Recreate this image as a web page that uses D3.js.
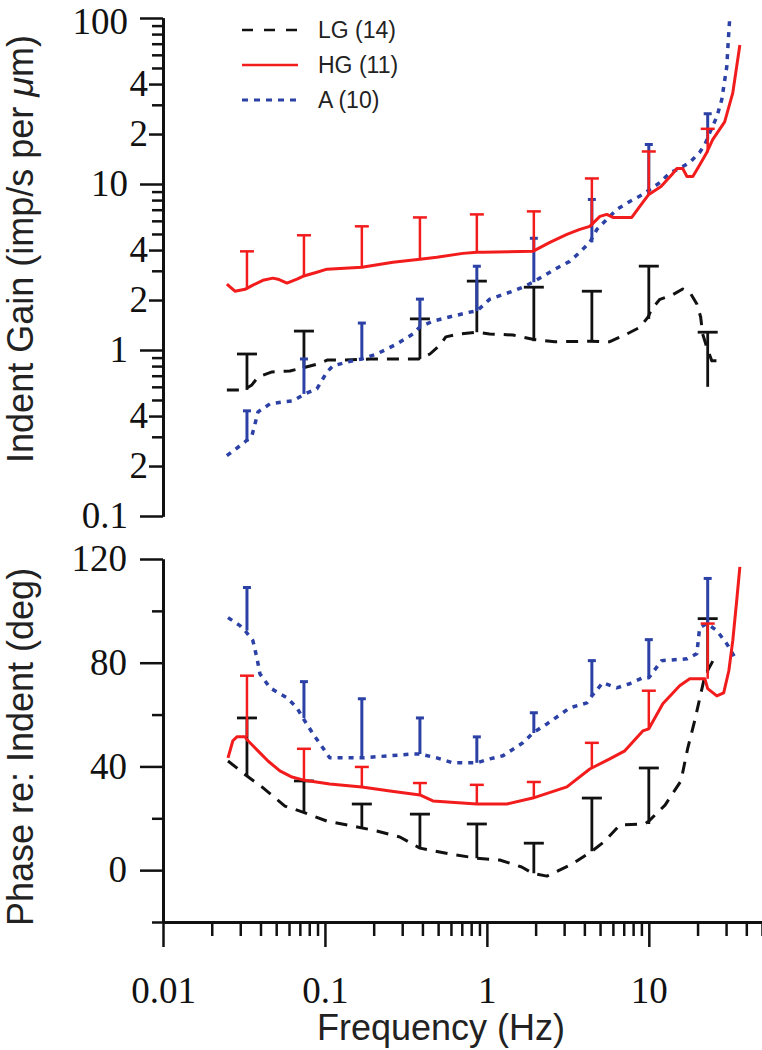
<!DOCTYPE html>
<html>
<head>
<meta charset="utf-8">
<script src="https://cdn.jsdelivr.net/npm/d3@7"></script>
<style>
  body { margin: 0; background: #fff; }
  svg { display: block; }
</style>
</head>
<body>
<script>

// frequencies (Hz) where the error bars sit
var barFreqs = [0.033, 0.0742, 0.169, 0.386, 0.867, 1.95, 4.45, 10, 23.1];

// legend
var seriesNames = ["LG (14)", "HG (11)", "A (10)"];

// gain curves [Hz, imp/s per um]
var lgGain = [[0.0248,0.575],[0.0316,0.575],[0.0354,0.616],[0.0386,0.688],[0.0471,0.738],[0.0608,0.748],[0.0731,0.78],[0.0905,0.824],[0.104,0.871],[0.133,0.871],[0.19,0.883],[0.38,0.883],[0.445,0.946],[0.513,1.07],[0.558,1.2],[0.68,1.25],[0.867,1.28],[1.04,1.25],[1.45,1.23],[1.92,1.16],[2.63,1.12],[4.3,1.13],[5.7,1.12],[7.1,1.23],[8.8,1.37],[9.9,1.58],[10.4,1.76],[11.7,2.02],[13.9,2.14],[16.2,2.33],[17.9,2.23],[19.8,1.89],[20.9,1.58],[21.5,1.25],[22.8,1.04],[24.5,0.86],[26.3,0.86]];
var hgGain = [[0.0248,2.49],[0.0278,2.26],[0.0321,2.32],[0.0359,2.46],[0.0414,2.63],[0.0477,2.71],[0.0513,2.67],[0.0583,2.53],[0.0672,2.67],[0.0731,2.78],[0.0892,2.94],[0.103,3.07],[0.169,3.15],[0.263,3.38],[0.386,3.52],[0.491,3.62],[0.711,3.82],[0.867,3.88],[0.944,3.88],[1.92,3.93],[2.45,4.45],[3.12,4.97],[3.75,5.33],[4.32,5.56],[4.99,6.38],[5.5,6.56],[6.0,6.29],[7.85,6.29],[8.8,7.33],[10,8.65],[11.9,9.66],[13.9,11.4],[14.9,12.4],[16.2,12.4],[17.2,11.1],[18.7,11.1],[19.8,12.2],[21.5,14.0],[22.8,15.5],[24.8,18.5],[29.4,23.7],[33,35.4],[36.5,68.8]];
var aGain = [[0.0248,0.231],[0.0299,0.265],[0.0321,0.28],[0.0354,0.304],[0.037,0.359],[0.0386,0.424],[0.0458,0.474],[0.055,0.487],[0.0634,0.494],[0.0752,0.544],[0.0892,0.583],[0.103,0.738],[0.112,0.801],[0.137,0.847],[0.169,0.883],[0.209,0.946],[0.278,1.087],[0.349,1.248],[0.386,1.374],[0.464,1.493],[0.617,1.6],[0.785,1.691],[0.867,1.715],[1.043,2.025],[1.387,2.23],[1.667,2.39],[1.923,2.56],[2.22,2.78],[2.7,3.11],[3.25,3.42],[3.75,3.88],[4.32,4.45],[4.78,5.33],[5.5,6.12],[6.34,7.03],[7.63,7.85],[9.18,8.65],[11.7,10.2],[13.5,11.7],[15.5,12.4],[17.9,13.5],[20.6,15.5],[22.2,17.3],[23.8,20.4],[26.3,25.4],[28.2,32.2],[30.3,50.8],[30.9,70.8],[31.6,100]];

// gain error bars: where the bar starts and where the cap is
var lgGainBase = [0.575, 0.78, null, 0.883, 1.28, 1.13, 1.13, 1.54, 0.60];
var lgGainCap  = [0.946, 1.30, null, 1.54, 2.60, 2.39, 2.26, 3.2, 1.28];
var hgGainBase = [2.32, 2.78, 3.15, 3.52, 3.88, 3.93, 5.56, 8.65, 15.5];
var hgGainCap  = [3.93, 4.91, 5.56, 6.29, 6.56, 6.84, 10.8, 15.7, 21.5];
var aGainBase  = [0.28, 0.544, 0.883, 1.374, 1.715, 2.56, 4.45, 8.65, 18.5];
var aGainCap   = [0.43, 0.883, 1.453, 2.025, 3.196, 4.71, 8.07, 17.3, 26.5];

// phase curves [Hz, deg]
var lgPhase = [[0.0252,42.1],[0.033,36.3],[0.0408,32.1],[0.0566,24.7],[0.0731,22.4],[0.103,18.9],[0.149,17.0],[0.209,15.1],[0.29,12.8],[0.386,8.5],[0.591,6.2],[0.867,4.6],[1.2,3.9],[1.64,1.2],[1.92,-1.2],[2.35,-2.3],[3.35,2.3],[4.45,7.3],[5.35,11.2],[6.62,17.4],[9.45,17.8],[10,18.9],[12.6,25.1],[15.8,34.4],[17.4,47.1],[19.2,57.6],[22.2,75.0],[26.3,83.5]];
var hgPhase = [[0.0252,43.3],[0.027,49.9],[0.0286,51.4],[0.0321,51.4],[0.0335,49.9],[0.0386,46.0],[0.0445,42.1],[0.0527,38.3],[0.0626,35.9],[0.0731,34.8],[0.107,33.2],[0.169,32.1],[0.252,30.5],[0.386,29.0],[0.464,26.7],[0.867,25.5],[1.33,25.5],[1.92,27.8],[3.12,32.1],[4.32,39.0],[5.74,42.9],[7.11,46.0],[9.18,53.7],[10,54.5],[12.2,64.2],[15.5,71.1],[17.9,73.8],[22.2,73.8],[23.1,70.0],[26.3,67.2],[29.0,68.4],[31.2,76.9],[33.0,88.5],[34.9,104],[36.5,117]];
var aPhase = [[0.0252,97.4],[0.0299,94.3],[0.0321,92.4],[0.0359,88.5],[0.038,81.9],[0.0397,75.7],[0.0458,70.3],[0.0583,66.5],[0.0672,62.6],[0.0731,58.7],[0.0843,52.6],[0.0972,47.1],[0.107,43.3],[0.169,43.3],[0.349,44.8],[0.386,44.8],[0.491,43.3],[0.617,41.4],[0.867,41.4],[1.043,42.9],[1.256,44.1],[1.667,49.1],[1.923,52.9],[2.35,56.4],[3.25,62.6],[4.14,64.5],[4.45,67.2],[5.2,72.3],[6.34,70.3],[7.63,71.9],[9.18,74.2],[10,74.2],[12.0,80.8],[17.2,81.5],[19.8,83.5],[20.6,93.5],[22.8,95.1],[26.3,92.4],[30.3,87.3],[34.9,80.8]];

// phase error bars
var lgPhaseBase = [36.3, 22.4, 16.6, 8.5, 4.6, -1.2, 7.3, 17.8, 76];
var lgPhaseCap  = [58.7, 34.4, 25.5, 21.6, 17.8, 10.4, 27.8, 39.4, 97];
var hgPhaseBase = [51.4, 34.8, 32.1, 29.0, 25.5, 27.8, 39.0, 54.5, 73.8];
var hgPhaseCap  = [75.0, 46.8, 39.8, 33.6, 32.9, 34.0, 49.1, 69.2, 95.1];
var aPhaseBase  = [92.4, 58.7, 43.3, 44.8, 41.4, 52.9, 67.2, 74.2, 95.1];
var aPhaseCap   = [109.0, 72.7, 66.1, 58.7, 51.4, 60.7, 80.8, 88.9, 112.5];

// ticks
var freqMajor = [0.01, 0.1, 1, 10];
var freqMinor = [0.02,0.03,0.04,0.05,0.06,0.07,0.08,0.09,0.2,0.3,0.4,0.5,0.6,0.7,0.8,0.9,2,3,4,5,6,7,8,9,20,30,40,50];
var gainMajor = [0.1, 1, 10, 100];
var gainLabeledMinor = [0.2, 0.4, 2, 4, 20, 40];
var gainMinor = [0.3,0.5,0.6,0.7,0.8,0.9,3,5,6,7,8,9,30,50,60,70,80,90];
var phaseMajor = [0, 40, 80, 120];
var phaseMinor = [-20, 20, 60, 100];


window.onload = function() {
    drawChart();
};

function drawChart() {

    var w = 762;
    var h = 1050;

    var black = "#111";
    var red = "#f21c1c";
    var blue = "#2c41a6";

    var serif = "'Liberation Serif', 'Times New Roman', serif";
    var sans = "'Liberation Sans', Arial, sans-serif";

    var svg = d3.select("body")
                .append("svg")
                .attr("width", w)
                .attr("height", h);

    var xScale = d3.scaleLog().domain([0.01, 50]).range([163, 762]);
    var yGain = d3.scaleLog().domain([0.1, 100]).range([516, 18]);
    var yPhase = d3.scaleLinear().domain([-20, 120]).range([922, 559]);

    // axes ------------------------------------------------------------

    function styleAxis(g) {
        g.attr("font-size", null).attr("font-family", null);
        g.select(".domain").attr("stroke", black).attr("stroke-width", 3);
        g.selectAll(".tick line").attr("stroke", black).attr("stroke-width", 2.5);
        g.selectAll("text")
         .attr("fill", black)
         .style("font-family", serif)
         .style("font-size", "37px");
    }

    // gain axis
    svg.append("g")
       .attr("transform", "translate(163,0)")
       .call(d3.axisLeft(yGain).tickValues(gainMinor).tickSize(11).tickSizeOuter(0).tickFormat(""))
       .call(styleAxis);

    svg.append("g")
       .attr("transform", "translate(163,0)")
       .call(d3.axisLeft(yGain).tickValues(gainLabeledMinor).tickSize(14).tickSizeOuter(0)
                .tickPadding(1)
                .tickFormat(function(d) { return String(Math.round(d / Math.pow(10, Math.floor(Math.log10(d) + 1e-9)))); }))
       .call(styleAxis);

    var gainMajorAxis = svg.append("g")
       .attr("transform", "translate(163,0)")
       .call(d3.axisLeft(yGain).tickValues(gainMajor).tickSize(23).tickSizeOuter(0)
                .tickPadding(12)
                .tickFormat(function(d) { return d < 1 ? "0.1" : String(d); }))
       .call(styleAxis);

    // the top label would poke out of the picture, nudge it down a bit
    gainMajorAxis.selectAll(".tick text")
       .filter(function(d) { return d == 100; })
       .attr("dy", "0.42em");

    // phase axis
    svg.append("g")
       .attr("transform", "translate(163,0)")
       .call(d3.axisLeft(yPhase).tickValues(phaseMinor).tickSize(11).tickSizeOuter(0).tickFormat(""))
       .call(styleAxis);

    svg.append("g")
       .attr("transform", "translate(163,0)")
       .call(d3.axisLeft(yPhase).tickValues(phaseMajor).tickSize(23).tickSizeOuter(0).tickPadding(13))
       .call(styleAxis);

    // frequency axis
    svg.append("g")
       .attr("transform", "translate(0,922)")
       .call(d3.axisBottom(xScale).tickValues(freqMinor).tickSize(14).tickSizeOuter(0).tickFormat(""))
       .call(styleAxis);

    svg.append("g")
       .attr("transform", "translate(0,922)")
       .call(d3.axisBottom(xScale).tickValues(freqMajor).tickSize(25).tickSizeOuter(0)
                .tickFormat(function(d) { return String(d); }))
       .call(styleAxis)
       .selectAll("text")
       .attr("y", 81)
       .attr("dy", null);

    // axis titles
    var gainTitle = svg.append("text")
       .attr("transform", "translate(33,249) rotate(-90)")
       .attr("text-anchor", "middle")
       .style("font-family", sans)
       .style("font-size", "36px")
       .attr("fill", "#222");
    gainTitle.append("tspan").text("Indent Gain (imp/s per ");
    gainTitle.append("tspan").style("font-style", "italic").text("μ");
    gainTitle.append("tspan").text("m)");

    svg.append("text")
       .attr("transform", "translate(33,747) rotate(-90)")
       .attr("text-anchor", "middle")
       .style("font-family", sans)
       .style("font-size", "36px")
       .attr("fill", "#222")
       .text("Phase re: Indent (deg)");

    svg.append("text")
       .attr("x", 441)
       .attr("y", 1040)
       .attr("text-anchor", "middle")
       .style("font-family", sans)
       .style("font-size", "36px")
       .attr("fill", "#222")
       .text("Frequency (Hz)");

    // series -----------------------------------------------------------

    var styles = [
        {color: black, dash: "12,9", width: 3, cap: 20, barWidth: 2.8},
        {color: red, dash: null, width: 3, cap: 14, barWidth: 2.5},
        {color: blue, dash: "5,6", width: 3.5, cap: 8, barWidth: 3}
    ];

    function drawBars(yScale, base, cap, st) {
        var g = svg.append("g");
        barFreqs.forEach(function(f, i) {
            if (base[i] == null) return;
            var xp = xScale(f);
            g.append("line")
             .attr("x1", xp).attr("x2", xp)
             .attr("y1", yScale(base[i])).attr("y2", yScale(cap[i]))
             .attr("stroke", st.color).attr("stroke-width", st.barWidth);
            g.append("line")
             .attr("x1", xp - st.cap / 2).attr("x2", xp + st.cap / 2)
             .attr("y1", yScale(cap[i])).attr("y2", yScale(cap[i]))
             .attr("stroke", st.color).attr("stroke-width", st.barWidth);
        });
    }

    function drawCurve(yScale, data, st) {
        var line = d3.line()
                     .x(function(d) { return xScale(d[0]); })
                     .y(function(d) { return yScale(d[1]); });
        svg.append("path")
           .datum(data)
           .attr("d", line)
           .attr("fill", "none")
           .attr("stroke", st.color)
           .attr("stroke-width", st.width)
           .attr("stroke-dasharray", st.dash)
           .attr("stroke-linejoin", "round");
    }

    // gain panel
    drawCurve(yGain, lgGain, styles[0]);
    drawBars(yGain, lgGainBase, lgGainCap, styles[0]);
    drawCurve(yGain, aGain, styles[2]);
    drawBars(yGain, aGainBase, aGainCap, styles[2]);
    drawCurve(yGain, hgGain, styles[1]);
    drawBars(yGain, hgGainBase, hgGainCap, styles[1]);

    // phase panel
    drawCurve(yPhase, lgPhase, styles[0]);
    drawBars(yPhase, lgPhaseBase, lgPhaseCap, styles[0]);
    drawCurve(yPhase, aPhase, styles[2]);
    drawBars(yPhase, aPhaseBase, aPhaseCap, styles[2]);
    drawCurve(yPhase, hgPhase, styles[1]);
    drawBars(yPhase, hgPhaseBase, hgPhaseCap, styles[1]);

    // legend
    var legend = svg.append("g");
    seriesNames.forEach(function(name, i) {
        var yy = 30 + i * 35;
        legend.append("line")
              .attr("x1", 242).attr("x2", 298)
              .attr("y1", yy).attr("y2", yy)
              .attr("stroke", styles[i].color)
              .attr("stroke-width", i == 2 ? 3 : 2.5)
              .attr("stroke-dasharray", i == 0 ? "11,11" : (i == 2 ? "6,6" : null));
        legend.append("text")
              .attr("x", 318)
              .attr("y", yy + 8)
              .style("font-family", sans)
              .style("font-size", "23px")
              .attr("fill", "#222")
              .text(name);
    });
}

</script>
</body>
</html>
